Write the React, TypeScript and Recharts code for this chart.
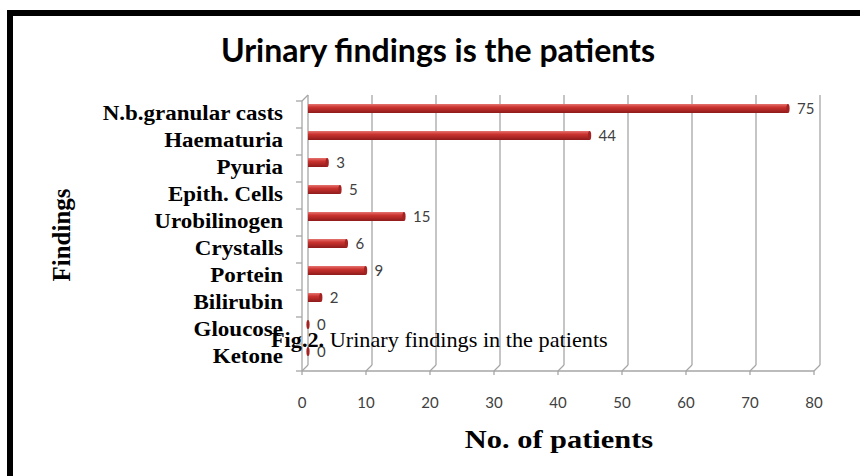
import React from 'react';
import { BarChart, Bar, XAxis, YAxis, CartesianGrid, LabelList } from 'recharts';

const findings = [
  'N.b.granular casts',
  'Haematuria',
  'Pyuria',
  'Epith. Cells',
  'Urobilinogen',
  'Crystalls',
  'Portein',
  'Bilirubin',
  'Gloucose',
  'Ketone',
];
const patients = [75, 44, 3, 5, 15, 6, 9, 2, 0, 0];
const xTicks = [0, 10, 20, 30, 40, 50, 60, 70, 80];

const data = findings.map((name, i) => ({ name, value: patients[i] }));

const DEPTH = 6; // 3d offset between back wall and front axis
const GRID = '#a6a6a6';
const SERIF = '"Liberation Serif", "Times New Roman", serif';

const XTick = (props: any) => {
  const { x, y, payload } = props;
  return (
    <g>
      <line x1={x} y1={y} x2={x - DEPTH} y2={y + DEPTH} stroke={GRID} strokeWidth={1.3} />
      <line x1={x - DEPTH} y1={y + DEPTH} x2={x - DEPTH} y2={y + DEPTH + 4} stroke={GRID} strokeWidth={1.3} />
      <text x={x - DEPTH} y={y + DEPTH + 37} textAnchor="middle" fontFamily="Lato" fontSize={15} fill="#404040">
        {payload.value}
      </text>
    </g>
  );
};

const YTick = (props: any) => {
  const { x, y, payload, index, visibleTicksCount } = props;
  const half = payload.offset || 13.5;
  const fx = x - DEPTH;
  const top = y - half + DEPTH;
  const bottom = y + half + DEPTH;
  return (
    <g>
      <line x1={fx - 6} y1={top} x2={fx} y2={top} stroke={GRID} strokeWidth={1.3} />
      {index === visibleTicksCount - 1 && (
        <line x1={fx - 6} y1={bottom} x2={fx} y2={bottom} stroke={GRID} strokeWidth={1.3} />
      )}
      {index === 0 && <line x1={fx} y1={top} x2={x} y2={y - half} stroke={GRID} strokeWidth={1.3} />}
      <text
        transform={`translate(${x - 25},${y + 5}) scale(1.15,1)`}
        textAnchor="end"
        dominantBaseline="central"
        fontFamily={SERIF}
        fontWeight="bold"
        fontSize={20}
        fill="#000"
      >
        {payload.value}
      </text>
    </g>
  );
};

const CylBar = (props: any) => {
  const { x, y, width, height } = props;
  const w = Math.max(width || 0, 0);
  return (
    <g>
      <rect x={x} y={y} width={w} height={height} fill="url(#barGrad)" />
      <ellipse cx={x + w} cy={y + height / 2} rx={1.6} ry={height / 2} fill="#a32222" />
    </g>
  );
};

export default function App() {
  return (
    <div style={{ position: 'absolute', left: 0, top: 0, width: 860, height: 476, background: '#fff', overflow: 'hidden' }}>
      <div
        style={{
          position: 'absolute',
          left: 7,
          top: 10,
          width: 853,
          height: 466,
          borderLeft: '6px solid #000',
          borderTop: '6px solid #000',
          boxSizing: 'border-box',
        }}
      />
      <div style={{ position: 'absolute', left: 0, top: 0 }}>
        <BarChart
          width={860}
          height={476}
          data={data}
          layout="vertical"
          margin={{ top: 95, right: 40, bottom: 81, left: 0 }}
          barSize={9}
        >
          <defs>
            <linearGradient id="barGrad" x1="0" y1="0" x2="0" y2="1">
              <stop offset="0%" stopColor="#e47470" />
              <stop offset="35%" stopColor="#cc3430" />
              <stop offset="100%" stopColor="#8e1b1b" />
            </linearGradient>
          </defs>
          <CartesianGrid horizontal={false} stroke={GRID} strokeWidth={1.3} />
          <XAxis
            type="number"
            domain={[0, 80]}
            ticks={xTicks}
            interval={0}
            height={30}
            tickSize={0}
            tickMargin={0}
            tickLine={false}
            axisLine={{ stroke: GRID, strokeWidth: 1.3, transform: `translate(${-DEPTH},${DEPTH})` } as any}
            tick={<XTick />}
          />
          <YAxis
            type="category"
            dataKey="name"
            width={308}
            interval={0}
            tickSize={0}
            tickMargin={0}
            tickLine={false}
            axisLine={{ stroke: GRID, strokeWidth: 1.3, transform: `translate(${-DEPTH},${DEPTH})` } as any}
            tick={<YTick />}
          />
          <Bar dataKey="value" shape={<CylBar />} isAnimationActive={false}>
            <LabelList
              dataKey="value"
              position="right"
              offset={9}
              fill="#404040"
              fontFamily="Lato"
              fontSize={15}
            />
          </Bar>
        </BarChart>
      </div>
      <svg width={860} height={476} style={{ position: 'absolute', left: 0, top: 0, pointerEvents: 'none' }}>
        <text x={438} y={62} textAnchor="middle" fontFamily="Lato" fontWeight="bold" fontSize={32} fill="#000">
          Urinary findings is the patients
        </text>
        <text
          transform="translate(70,235) rotate(-90)"
          textAnchor="middle"
          fontFamily={SERIF}
          fontWeight="bold"
          fontSize={25}
          fill="#000"
        >
          Findings
        </text>
        <text
          transform="translate(559,448) scale(1.17,1)"
          textAnchor="middle"
          fontFamily={SERIF}
          fontWeight="bold"
          fontSize={26}
          fill="#000"
        >
          No. of patients
        </text>
        <text transform="translate(271,347) scale(1.06,1)" fontFamily={SERIF} fontSize={21} fill="#000">
          <tspan fontWeight="bold">Fig.2.</tspan> Urinary findings in the patients
        </text>
      </svg>
    </div>
  );
}
